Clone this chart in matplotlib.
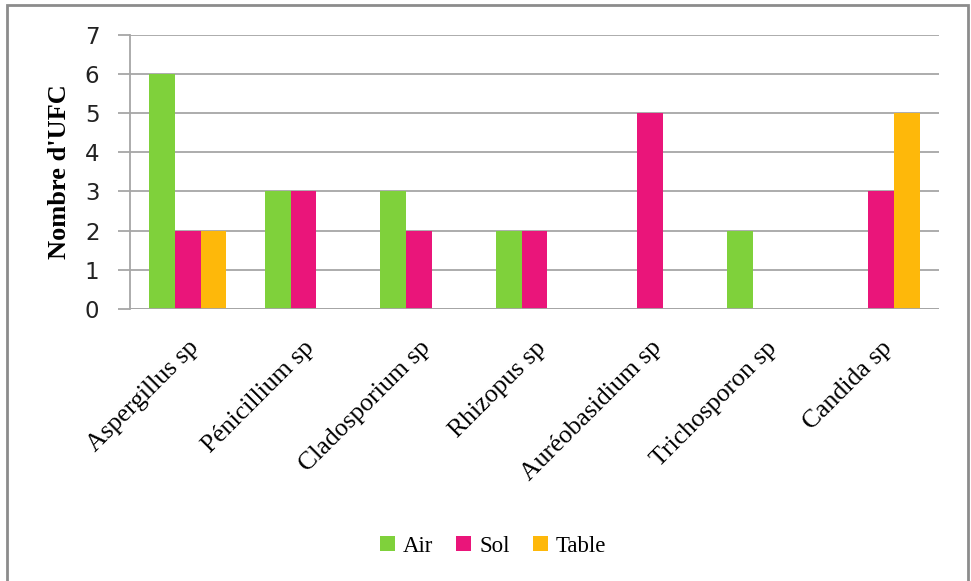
import numpy as np
import matplotlib.pyplot as plt
from matplotlib.patches import Rectangle

especes = ["Aspergillus sp", "Pénicillium sp", "Cladosporium sp", "Rhizopus sp",
           "Auréobasidium sp", "Trichosporon sp", "Candida sp"]
air = [6, 3, 3, 2, 0, 2, 0]
sol = [2, 3, 2, 2, 5, 0, 3]
table = [2, 0, 0, 0, 0, 0, 5]
yticks = [0, 1, 2, 3, 4, 5, 6, 7]

couleurs = ["#7fd13b", "#ea157a", "#feb80a"]
series = [("Air", air), ("Sol", sol), ("Table", table)]

fig = plt.figure(figsize=(9.71, 5.81), dpi=100)
ax = fig.add_axes([130 / 971, 1 - 309 / 581, (939 - 130) / 971, (309 - 34.5) / 581])

x = np.arange(len(especes))
w = 2 / 3 / 3
for i, (nom, vals) in enumerate(series):
    ax.bar(x + (i - 1) * w, vals, width=w, color=couleurs[i], label=nom, zorder=3)

ax.set_xlim(-0.5, len(especes) - 0.5)
ax.set_ylim(0, 7)
ax.set_yticks(yticks)
ax.grid(axis="y", color="#a6a6a6", linewidth=1.3, zorder=0)
for s in ["top", "right", "bottom"]:
    ax.spines[s].set_visible(False)
ax.spines["left"].set_color("#a6a6a6")
ax.spines["left"].set_linewidth(1.3)
ax.axhline(0, color="#a6a6a6", linewidth=1.3, zorder=4)
ax.tick_params(axis="y", length=9, width=1.3, color="#a6a6a6", labelsize=16.5, pad=13,
               labelcolor="#222222")
ax.tick_params(axis="x", length=0, pad=20)
ax.set_xticks(x)
ax.set_xticklabels(especes, rotation=45, ha="right", rotation_mode="anchor",
                   family="Liberation Serif", fontsize=18.5)
ax.set_ylabel("Nombre d'UFC", family="Liberation Serif", fontweight="bold",
              fontsize=19, labelpad=10)

ax.legend(loc="center", bbox_to_anchor=(493 / 971, 1 - 546 / 581),
          bbox_transform=fig.transFigure, ncol=3, frameon=False,
          prop={"family": "Liberation Serif", "size": 16.5},
          handlelength=0.65, handleheight=0.65, handletextpad=0.35, columnspacing=1.0)

fig.patches.append(Rectangle((7 / 971, -0.05), (968 - 7) / 971, 1.05 - 5 / 581,
                             transform=fig.transFigure, fill=False,
                             edgecolor="#8c8c8c", linewidth=2))

fig.savefig("out.png", dpi=100)
